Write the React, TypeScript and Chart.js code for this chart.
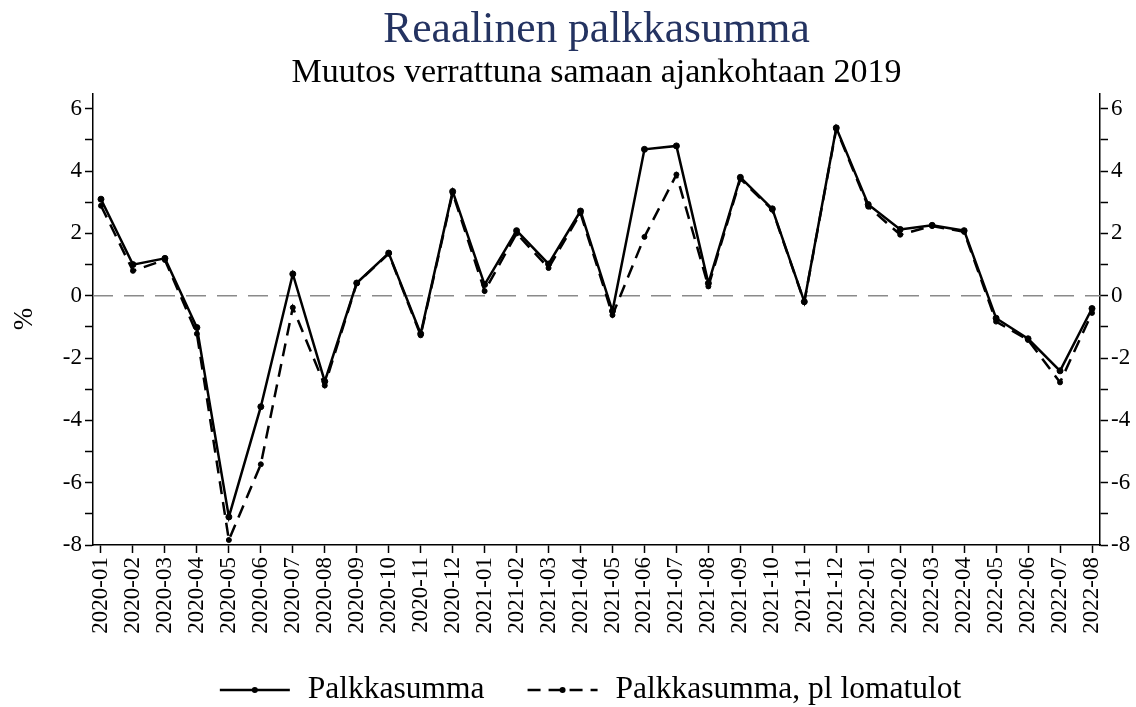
import React, { useEffect, useRef } from 'react';
import { Chart, registerables } from 'chart.js';

Chart.register(...registerables);

const categories = [
  '2020-01', '2020-02', '2020-03', '2020-04', '2020-05', '2020-06', '2020-07', '2020-08',
  '2020-09', '2020-10', '2020-11', '2020-12', '2021-01', '2021-02', '2021-03', '2021-04',
  '2021-05', '2021-06', '2021-07', '2021-08', '2021-09', '2021-10', '2021-11', '2021-12',
  '2022-01', '2022-02', '2022-03', '2022-04', '2022-05', '2022-06', '2022-07', '2022-08',
];

const palkkasumma = [
  3.1, 1.0, 1.2, -1.02, -7.1, -3.56, 0.7, -2.75,
  0.41, 1.37, -1.22, 3.35, 0.36, 2.09, 1.02, 2.72,
  -0.49, 4.7, 4.81, 0.4, 3.8, 2.79, -0.19, 5.39,
  2.93, 2.13, 2.26, 2.09, -0.72, -1.38, -2.41, -0.41,
];

const palkkasummaPlLomatulot = [
  2.89, 0.8, 1.15, -1.22, -7.84, -5.41, -0.38, -2.88,
  0.4, 1.35, -1.27, 3.3, 0.15, 2.0, 0.89, 2.65,
  -0.62, 1.89, 3.89, 0.3, 3.75, 2.76, -0.2, 5.35,
  2.86, 1.96, 2.24, 2.05, -0.83, -1.42, -2.78, -0.55,
];

const yTickValues = [-8, -7, -6, -5, -4, -3, -2, -1, 0, 1, 2, 3, 4, 5, 6];
const yLabelledTicks = [-8, -6, -4, -2, 0, 2, 4, 6];

const titleText = 'Reaalinen palkkasumma';
const subtitleText = 'Muutos verrattuna samaan ajankohtaan 2019';
const yAxisTitle = '%';
const seriesNames = ['Palkkasumma', 'Palkkasumma, pl lomatulot'];

const FONT = "'Liberation Serif', 'Times New Roman', serif";

const zeroLinePlugin = {
  id: 'zeroLine',
  beforeDatasetsDraw(chart: any) {
    const { ctx, chartArea } = chart;
    const y = chart.scales.y.getPixelForValue(0);
    ctx.save();
    ctx.strokeStyle = '#8a8a8a';
    ctx.lineWidth = 1.5;
    ctx.setLineDash([20, 11]);
    ctx.beginPath();
    ctx.moveTo(chartArea.left, y);
    ctx.lineTo(chartArea.right, y);
    ctx.stroke();
    ctx.restore();
  },
};

const customLegendPlugin = {
  id: 'customLegend',
  afterDraw(chart: any) {
    const { ctx, chartArea } = chart;
    const fontSize = 31.5;
    ctx.save();
    ctx.font = `${fontSize}px ${FONT}`;
    const sampleW = 70;
    const gapText = 18;
    const gapItem = 43;
    const widths = seriesNames.map((n) => ctx.measureText(n).width);
    const total = sampleW * 2 + gapText * 2 + widths[0] + widths[1] + gapItem;
    let x = (chartArea.left + chartArea.right) / 2 - 6 - total / 2;
    const y = 690;
    seriesNames.forEach((name, i) => {
      ctx.strokeStyle = '#000';
      ctx.fillStyle = '#000';
      ctx.lineWidth = 2.5;
      ctx.setLineDash(i === 1 ? [13, 8] : []);
      ctx.beginPath();
      ctx.moveTo(x, y);
      ctx.lineTo(x + sampleW, y);
      ctx.stroke();
      ctx.setLineDash([]);
      ctx.beginPath();
      ctx.arc(x + sampleW / 2, y, 3, 0, Math.PI * 2);
      ctx.fill();
      x += sampleW + gapText;
      ctx.textBaseline = 'middle';
      ctx.textAlign = 'left';
      ctx.fillText(name, x, y);
      x += widths[i] + gapItem;
    });
    ctx.restore();
  },
};

function yAxis(position: 'left' | 'right', withTitle: boolean, width: number) {
  return {
    type: 'linear' as const,
    position,
    min: -8,
    max: 6.5,
    afterBuildTicks: (s: any) => {
      s.ticks = yTickValues.map((v) => ({ value: v }));
    },
    afterFit: (s: any) => {
      s.width = width;
    },
    ticks: {
      autoSkip: false,
      color: '#000',
      padding: 3,
      font: { family: FONT, size: 23 },
      callback: (v: any) => (yLabelledTicks.includes(Number(v)) ? String(v) : ''),
    },
    grid: {
      drawOnChartArea: false,
      drawTicks: true,
      tickLength: 8,
      tickWidth: 1.5,
      tickColor: '#000',
    },
    border: { display: true, color: '#000', width: 1.5 },
    title: {
      display: withTitle,
      text: yAxisTitle,
      color: '#000',
      font: { family: FONT, size: 27 },
      padding: { top: 9, bottom: 0 },
    },
  };
}

export default function App() {
  const canvasRef = useRef<HTMLCanvasElement | null>(null);

  useEffect(() => {
    if (!canvasRef.current) return;
    const chart = new Chart(canvasRef.current, {
      type: 'line',
      data: {
        datasets: [
          {
            label: seriesNames[0],
            data: palkkasumma.map((v, i) => ({ x: i, y: v })),
            borderColor: '#000',
            backgroundColor: '#000',
            borderWidth: 2.5,
            pointRadius: 3,
            pointBackgroundColor: '#000',
            pointBorderColor: '#000',
            pointBorderWidth: 1,
            tension: 0,
          },
          {
            label: seriesNames[1],
            data: palkkasummaPlLomatulot.map((v, i) => ({ x: i, y: v })),
            borderColor: '#000',
            backgroundColor: '#000',
            borderWidth: 2.5,
            borderDash: [13, 8],
            pointRadius: 2.5,
            pointBackgroundColor: '#000',
            pointBorderColor: '#000',
            pointBorderWidth: 1,
            tension: 0,
          },
        ],
      },
      options: {
        animation: false,
        responsive: false,
        maintainAspectRatio: false,
        layout: { padding: { left: 0, right: 0, top: 0, bottom: 52 } },
        plugins: {
          legend: { display: false },
          tooltip: { enabled: false },
          title: {
            display: true,
            fullSize: false,
            text: titleText,
            color: '#243361',
            font: { family: FONT, size: 43.5, weight: 'normal', lineHeight: 1.1 },
            padding: { top: 7, bottom: 0 },
          },
          subtitle: {
            display: true,
            fullSize: false,
            text: subtitleText,
            color: '#000',
            font: { family: FONT, size: 34, weight: 'normal', lineHeight: 1.1 },
            padding: { top: 0, bottom: 1 },
          },
        },
        scales: {
          x: {
            type: 'linear',
            min: -0.25,
            max: 31.25,
            afterBuildTicks: (s: any) => {
              s.ticks = categories.map((_, i) => ({ value: i }));
            },
            afterFit: (s: any) => {
              s.height = 110;
            },
            ticks: {
              autoSkip: false,
              minRotation: 90,
              maxRotation: 90,
              color: '#000',
              padding: 4,
              font: { family: FONT, size: 23 },
              callback: (v: any) => categories[Number(v)] ?? '',
            },
            grid: {
              drawOnChartArea: false,
              drawTicks: true,
              tickLength: 8,
              tickWidth: 1.5,
              tickColor: '#000',
            },
            border: { display: true, color: '#000', width: 1.5 },
          },
          y: yAxis('left', true, 93),
          y2: yAxis('right', false, 36),
        },
      },
      plugins: [zeroLinePlugin, customLegendPlugin],
    } as any);
    return () => chart.destroy();
  }, []);

  return (
    <div style={{ position: 'absolute', left: 0, top: 0, width: 1136, height: 707, background: '#fff' }}>
      <canvas ref={canvasRef} width={1136} height={707} />
    </div>
  );
}
